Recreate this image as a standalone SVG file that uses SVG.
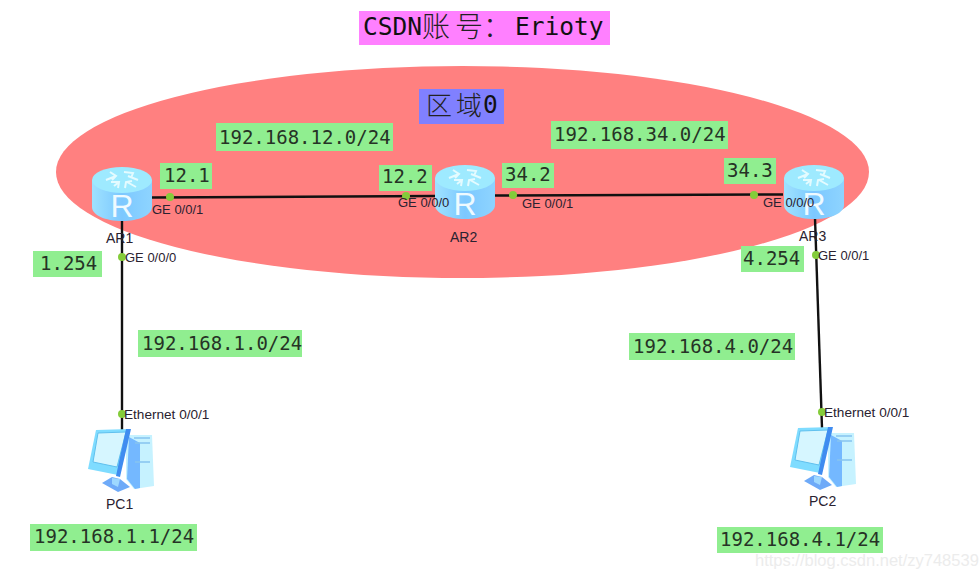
<svg xmlns="http://www.w3.org/2000/svg" width="979" height="579" viewBox="0 0 979 579">
<style>
.g{fill:#90ee90}
.m{font-family:"DejaVu Sans Mono","Liberation Mono",monospace;font-size:19px;fill:#263326}
.p{font-family:"Liberation Sans",Arial,sans-serif;font-size:13px;fill:#2a2230}
.e{font-family:"Liberation Sans",Arial,sans-serif;font-size:13.6px;fill:#2a2230}
.n{font-family:"Liberation Sans",Arial,sans-serif;font-size:14px;fill:#2a2230}
.c{font-family:"DejaVu Sans Mono",monospace;font-size:24.5px;fill:#111}
.k{font-family:"Noto Sans CJK SC",sans-serif;font-weight:300;fill:#222}
.l{stroke:#111;stroke-width:2.4;fill:none}
.d{fill:#84cc3a}
</style>
<defs>
<linearGradient id="rb" x1="0" x2="1" y1="0" y2="0"><stop offset="0" stop-color="#9fe2ff"/><stop offset=".5" stop-color="#7cc8ff"/><stop offset="1" stop-color="#8ed4ff"/></linearGradient>
<symbol id="router" viewBox="0 0 60 54" width="60" height="54" overflow="visible">
<path d="M0 13V40C0 48 13 54 30 54S60 48 60 40V13Z" fill="url(#rb)"/>
<ellipse cx="30" cy="13" rx="30" ry="13" fill="#9eeaff"/>
<g stroke="#e4fbff" stroke-width="2" fill="none">
<path d="M14 13L24 9M18 5L24 9L20 13"/><path d="M46 13L36 9M32 5L41 6L39 11"/><path d="M22 19L27 15M19 15L27 15L26 21"/><path d="M44 20L35 15M33 21L34 15L40 14"/>
</g>
<text x="30" y="50" text-anchor="middle" font-family="Liberation Sans,Arial,sans-serif" font-size="32" fill="#eefaff">R</text>
</symbol>
<symbol id="pc" viewBox="0 0 66 63" width="66" height="63" overflow="visible">
<path d="M38 6H64L66 57L46 60L38 50Z" fill="#c6f2ff"/>
<path d="M41 8L39 50L47 60L52 59V14Z" fill="#74b8ff"/>
<path d="M46 9H62M47 14H62M47 33H62" stroke="#86c4f0" stroke-width="1.5"/>
<path d="M8 1L42 0L41 6L30 46L0 40Z" fill="#7fdcff"/>
<path d="M10 4L38 3L29 38L5 33Z" fill="#d6f6ff" stroke="#60c0ee" stroke-width="1"/>
<path d="M38 0L43 0L32 48L28 47Z" fill="#3f8cf0"/>
<path d="M24 48L14 54L30 63L42 58L32 50Z" fill="#6eaaf8"/>
<path d="M24 49L32 50L30 58L24 55Z" fill="#9ed8ff"/>
</symbol>
</defs>

<ellipse id="area" cx="462.500" cy="172" rx="406.500" ry="106" fill="#ff8080"/>

<g id="title"><rect x="359" y="11" width="251" height="34" fill="#ff80ff"/>
<text class="c" x="363" y="35">CSDN</text><text class="k" x="422" y="37" font-size="28">账</text><text class="k" x="455" y="37" font-size="28">号</text><text class="k" x="483" y="37" font-size="28">：</text><text class="c" x="515" y="35">Erioty</text></g>
<g id="area-label"><rect x="419" y="89" width="85" height="35" fill="#8080ff"/><text class="k" x="426" y="115" font-size="26">区</text><text class="k" x="456" y="115" font-size="26">域</text><text class="c" x="483" y="113">0</text></g>

<g id="connectors">
<path class="l" d="M151 197.500L435 196"/>
<path class="l" d="M495 195.500L783 194.500"/>
<path class="l" d="M122 220V430"/>
<path class="l" d="M815 218L822 428"/>
<circle class="d" cx="170" cy="197" r="4"/>
<circle class="d" cx="406" cy="196" r="4"/>
<circle class="d" cx="513" cy="195" r="4"/>
<circle class="d" cx="754" cy="195" r="4"/>
<circle class="d" cx="122" cy="257" r="4"/>
<circle class="d" cx="122" cy="414" r="4"/>
<circle class="d" cx="816" cy="255" r="4"/>
<circle class="d" cx="822" cy="412" r="4"/>
</g>

<g id="AR1"><use href="#router" x="92" y="167"/><text class="n" x="106" y="243">AR1</text></g>
<g id="AR2"><use href="#router" x="435" y="165"/><text class="n" x="450" y="242">AR2</text></g>
<g id="AR3"><use href="#router" x="784" y="165"/><text class="n" x="799" y="241">AR3</text></g>
<g id="PC1"><use href="#pc" x="88" y="429"/><text class="n" x="106" y="509">PC1</text></g>
<g id="PC2"><use href="#pc" x="790" y="427"/><text class="n" x="809" y="506">PC2</text></g>

<g id="ports">
<text class="p" x="152" y="214">GE 0/0/1</text>
<text class="p" x="125" y="262">GE 0/0/0</text>
<text class="p" x="398" y="207">GE 0/0/0</text>
<text class="p" x="522" y="208">GE 0/0/1</text>
<text class="p" x="763" y="207">GE 0/0/0</text>
<text class="p" x="818" y="260">GE 0/0/1</text>
<text class="e" x="124" y="419">Ethernet 0/0/1</text>
<text class="e" x="824" y="417">Ethernet 0/0/1</text>
</g>

<g id="addresses">
<rect class="g" x="216" y="123" width="177" height="28"/><text class="m" x="219" y="144">192.168.12.0/24</text>
<rect class="g" x="551" y="121" width="177" height="28"/><text class="m" x="554" y="141">192.168.34.0/24</text>
<rect class="g" x="160" y="163" width="52" height="26"/><text class="m" x="164" y="182">12.1</text>
<rect class="g" x="379" y="165" width="53" height="26"/><text class="m" x="382" y="183">12.2</text>
<rect class="g" x="502" y="163" width="52" height="25"/><text class="m" x="505" y="181">34.2</text>
<rect class="g" x="724" y="158" width="52" height="26"/><text class="m" x="727" y="177">34.3</text>
<rect class="g" x="33" y="251" width="69" height="26"/><text class="m" x="40" y="270">1.254</text>
<rect class="g" x="741" y="246" width="63" height="26"/><text class="m" x="743" y="265">4.254</text>
<rect class="g" x="138" y="330" width="164" height="27"/><text class="m" x="142" y="350">192.168.1.0/24</text>
<rect class="g" x="629" y="333" width="166" height="27"/><text class="m" x="633" y="353">192.168.4.0/24</text>
<rect class="g" x="30" y="524" width="167" height="27"/><text class="m" x="34" y="543">192.168.1.1/24</text>
<rect class="g" x="717" y="527" width="166" height="26"/><text class="m" x="720" y="546">192.168.4.1/24</text>
</g>

<text id="watermark" x="755" y="566" font-family="Liberation Sans,Arial,sans-serif" font-size="16.500" fill="#ececec">https://blog.csdn.net/zy748539</text>
</svg>
